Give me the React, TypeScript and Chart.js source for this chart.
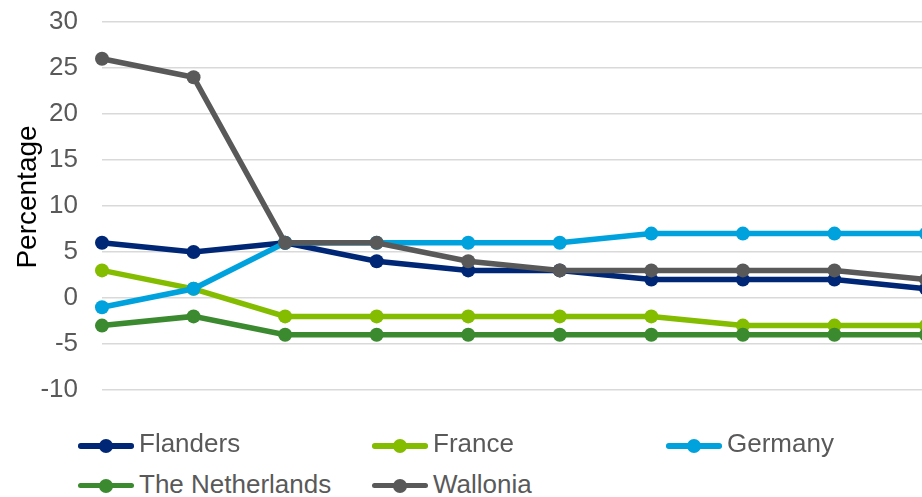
import React, { useEffect, useRef } from "react";
import { Chart, registerables } from "chart.js";

Chart.register(...registerables);

const categories = ["1", "2", "3", "4", "5", "6", "7", "8", "9", "10"];
const flanders = [6, 5, 6, 4, 3, 3, 2, 2, 2, 1];
const france = [3, 1, -2, -2, -2, -2, -2, -3, -3, -3];
const germany = [-1, 1, 6, 6, 6, 6, 7, 7, 7, 7];
const netherlands = [-3, -2, -4, -4, -4, -4, -4, -4, -4, -4];
const wallonia = [26, 24, 6, 6, 4, 3, 3, 3, 3, 2];
const seriesNames = ["Flanders", "France", "Germany", "The Netherlands", "Wallonia"];
const seriesColors = ["#002776", "#84BC00", "#00A2DE", "#3B8A2F", "#595959"];
const seriesData = [flanders, france, germany, netherlands, wallonia];
const yMin = -10;
const yMax = 30;
const yStep = 5;
const yTitle = "Percentage";

const FONT = '"Liberation Sans", Arial, sans-serif';

const legendPos = [
  { x: 78, top: 428, line: 446 },
  { x: 372, top: 428, line: 446 },
  { x: 666, top: 428, line: 446 },
  { x: 78, top: 469, line: 485.5 },
  { x: 372, top: 469, line: 485.5 },
];

export default function App() {
  const ref = useRef<HTMLCanvasElement>(null);
  useEffect(() => {
    if (!ref.current) return;
    const chart = new Chart(ref.current, {
      type: "line",
      data: {
        labels: categories,
        datasets: seriesData.map((d, i) => ({
          label: seriesNames[i],
          data: d,
          borderColor: seriesColors[i],
          backgroundColor: seriesColors[i],
          pointBackgroundColor: seriesColors[i],
          pointBorderColor: seriesColors[i],
          borderWidth: 5.5,
          pointRadius: 7,
          pointBorderWidth: 0,
          tension: 0,
          order: seriesData.length - i,
        })),
      },
      options: {
        responsive: false,
        animation: false,
        devicePixelRatio: 1,
        layout: { padding: { top: 22, bottom: 40, right: 14, left: 0 } },
        plugins: { legend: { display: false }, tooltip: { enabled: false } },
        scales: {
          x: { display: false, offset: false },
          y: {
            min: yMin,
            max: yMax,
            border: { display: false },
            grid: { color: "#d9d9d9", lineWidth: 1.5, drawTicks: false },
            ticks: {
              stepSize: yStep,
              padding: 24,
              color: "#595959",
              font: { family: FONT, size: 26 },
            },
            title: { display: false },
            afterFit: (scale: any) => {
              scale.width = 102;
              scale.paddingTop = 0;
              scale.paddingBottom = 0;
            },
          },
        },
      },
    });
    return () => chart.destroy();
  }, []);

  return (
    <div
      style={{
        position: "fixed",
        left: 0,
        top: 0,
        width: 922,
        height: 497,
        overflow: "hidden",
        background: "#ffffff",
        fontFamily: FONT,
      }}
    >
      <canvas
        ref={ref}
        width={940}
        height={430}
        style={{ position: "absolute", left: 0, top: 0, width: 940, height: 430 }}
      />
      <div
        style={{
          position: "absolute",
          left: 27 - 100,
          top: 197 - 17,
          width: 200,
          height: 34,
          lineHeight: "34px",
          textAlign: "center",
          fontSize: 28,
          color: "#000000",
          transform: "rotate(-90deg)",
          transformOrigin: "50% 50%",
          whiteSpace: "nowrap",
        }}
      >
        {yTitle}
      </div>
      {seriesNames.map((name, i) => {
        const p = legendPos[i];
        return (
          <div key={name}>
            <div
              style={{
                position: "absolute",
                left: p.x,
                top: p.line - 2.75,
                width: 56,
                height: 5.5,
                borderRadius: 2.75,
                background: seriesColors[i],
              }}
            />
            <div
              style={{
                position: "absolute",
                left: p.x + 21,
                top: p.line - 7,
                width: 14,
                height: 14,
                borderRadius: "50%",
                background: seriesColors[i],
              }}
            />
            <div
              style={{
                position: "absolute",
                left: p.x + 61,
                top: p.top,
                height: 30,
                lineHeight: "30px",
                fontSize: 26,
                color: "#595959",
                whiteSpace: "nowrap",
              }}
            >
              {name}
            </div>
          </div>
        );
      })}
    </div>
  );
}
